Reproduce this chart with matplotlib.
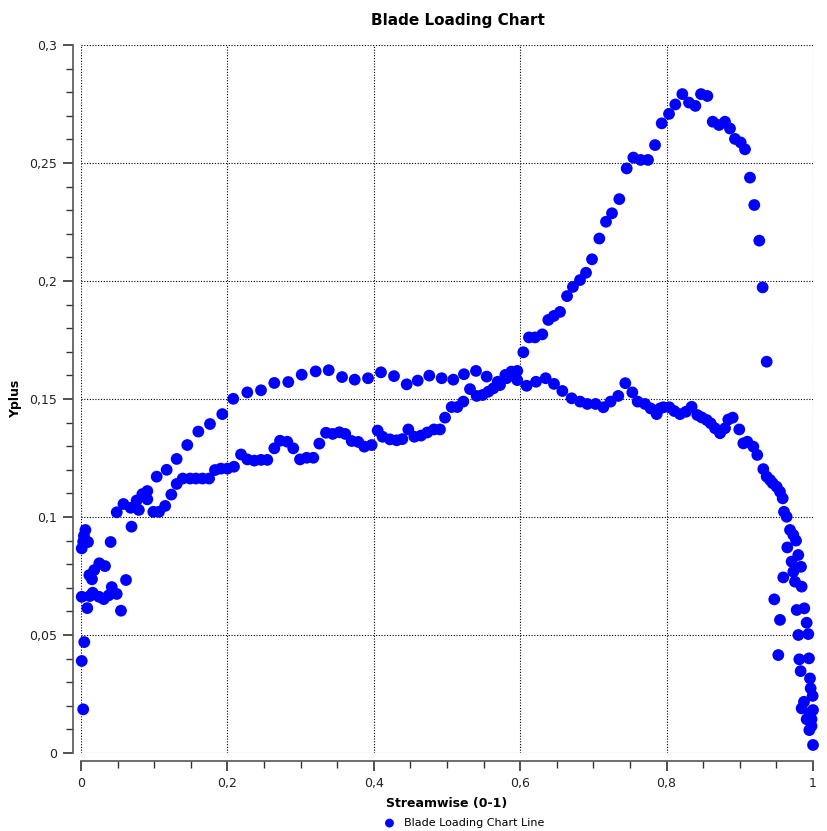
import numpy as np
import matplotlib
matplotlib.use("Agg")
import matplotlib.pyplot as plt
from matplotlib.ticker import MultipleLocator, FuncFormatter

# Yplus along the blade, streamwise coordinate 0..1
side_a_x = [0.003, 0.001, 0.0045, 0.001, 0.0086, 0.012, 0.016, 0.0246, 0.031, 0.0378, 0.042, 0.0488,
            0.0546, 0.0615, 0.0114, 0.015, 0.018, 0.025, 0.0328, 0.001, 0.003, 0.0096, 0.006, 0.004,
            0.0405, 0.069, 0.0488, 0.058, 0.0679, 0.079, 0.076, 0.0838, 0.0906, 0.0906, 0.0988,
            0.1066, 0.115, 0.1234, 0.1307, 0.139, 0.149, 0.157, 0.166, 0.175, 0.183, 0.191, 0.2,
            0.209, 0.2186, 0.2272, 0.2368, 0.2459, 0.2545, 0.2641, 0.2719, 0.2818, 0.29, 0.2992,
            0.3083, 0.3174, 0.3256, 0.3347, 0.3438, 0.3529, 0.361, 0.3698, 0.3788, 0.387, 0.397,
            0.4053, 0.412, 0.422, 0.4313, 0.439, 0.4472, 0.4554, 0.4645, 0.473, 0.4822, 0.4904,
            0.4973, 0.5064, 0.514, 0.5223, 0.5314, 0.5405, 0.5487, 0.5565, 0.5633, 0.5692, 0.5724,
            0.5797, 0.5815, 0.5879, 0.596, 0.596, 0.6043, 0.612, 0.6202, 0.6302, 0.6384, 0.646,
            0.6544, 0.664, 0.672, 0.6817, 0.6899, 0.6981, 0.7081, 0.7172, 0.7254, 0.7354, 0.7455,
            0.7546, 0.7646, 0.7746, 0.7842, 0.7933, 0.8033, 0.8119, 0.8215, 0.8306, 0.8393, 0.847,
            0.8557, 0.863, 0.8716, 0.8798, 0.8866, 0.8934, 0.9012, 0.9071, 0.9139, 0.9198, 0.9266,
            0.9312, 0.9367]
side_a_y = [0.0185, 0.039, 0.047, 0.0662, 0.0614, 0.0665, 0.0679, 0.0662, 0.0652, 0.0668, 0.0703, 0.0674,
            0.0603, 0.0733, 0.0754, 0.0736, 0.0775, 0.0804, 0.0792, 0.0867, 0.0895, 0.0894, 0.0945, 0.092,
            0.0894, 0.0959, 0.102, 0.1055, 0.1039, 0.103, 0.107, 0.1097, 0.111, 0.1075, 0.1022,
            0.1022, 0.1047, 0.1095, 0.114, 0.1163, 0.1163, 0.1163, 0.1163, 0.1163, 0.1199, 0.1205, 0.1205,
            0.1213, 0.1265, 0.1244, 0.1239, 0.1242, 0.1242, 0.1291, 0.1323, 0.1319, 0.1291, 0.1244,
            0.1251, 0.1251, 0.1311, 0.1357, 0.1352, 0.1359, 0.1352, 0.1322, 0.1318, 0.1298, 0.1305,
            0.1366, 0.134, 0.1329, 0.1325, 0.133, 0.1371, 0.134, 0.1345, 0.1358, 0.1371, 0.1371,
            0.1421, 0.1466, 0.1466, 0.1489, 0.1542, 0.1513, 0.1517, 0.1531, 0.1545, 0.1573, 0.1559,
            0.1602, 0.1588, 0.1616, 0.1619, 0.158, 0.1698, 0.1761, 0.1761, 0.1774, 0.1835, 0.1852,
            0.1869, 0.1936, 0.1975, 0.2004, 0.2035, 0.2092, 0.218, 0.2251, 0.2287, 0.2347, 0.2477,
            0.2523, 0.2513, 0.2513, 0.2576, 0.2668, 0.2708, 0.2748, 0.2792, 0.2756, 0.2742, 0.2792,
            0.2784, 0.2675, 0.2661, 0.2675, 0.2646, 0.2602, 0.2587, 0.2558, 0.2438, 0.2322, 0.2171,
            0.1973, 0.1658]

side_b_x = [0.1034, 0.117, 0.1307, 0.1452, 0.1603, 0.1762, 0.193, 0.208, 0.2272, 0.2459, 0.2641, 0.2832,
            0.3015, 0.3206, 0.3384, 0.3566, 0.3739, 0.3921, 0.4098, 0.4276, 0.4449, 0.46, 0.4758,
            0.4927, 0.5086, 0.5232, 0.5396, 0.5542, 0.6088, 0.6216, 0.6348, 0.6462, 0.6576, 0.6703,
            0.6817, 0.6917, 0.703, 0.7136, 0.7235, 0.734, 0.7436, 0.7532, 0.7605, 0.7705, 0.7782,
            0.7864, 0.791, 0.7955, 0.8037, 0.8105, 0.8183, 0.8265, 0.8342, 0.842, 0.8479, 0.8548,
            0.8602, 0.8661, 0.873, 0.8798, 0.8843, 0.8903, 0.8993, 0.9048, 0.9103, 0.9185, 0.9239,
            0.9321, 0.9367, 0.9413, 0.9449, 0.9504, 0.9549, 0.9586, 0.9604, 0.964, 0.9686, 0.9731,
            0.9768, 0.9649, 0.9799, 0.9708, 0.9836, 0.9731, 0.9754, 0.9594, 0.9845, 0.9471, 0.9777,
            0.9881, 0.9549, 0.9913, 0.98, 0.9936, 0.9526, 0.9813, 0.9945, 0.9831, 0.9959, 0.9968,
            0.9995, 0.9877, 0.9845, 1.0, 0.9959, 0.998, 0.9913, 0.998, 0.995, 1.0]
side_b_y = [0.1171, 0.12, 0.1246, 0.1305, 0.1362, 0.1394, 0.1436, 0.1501, 0.1528, 0.1537, 0.1568, 0.1572,
            0.1603, 0.1617, 0.1622, 0.1593, 0.1582, 0.1588, 0.1613, 0.1597, 0.1562, 0.1578, 0.1599,
            0.1588, 0.1582, 0.1605, 0.1619, 0.1595, 0.1556, 0.1573, 0.1588, 0.1564, 0.1534, 0.1503,
            0.1489, 0.1479, 0.1479, 0.1465, 0.1489, 0.1513, 0.1567, 0.1528, 0.1489, 0.1479, 0.146,
            0.1436, 0.146, 0.1465, 0.1465, 0.1449, 0.1436, 0.1446, 0.1467, 0.1432, 0.1422, 0.1411,
            0.1397, 0.1376, 0.1355, 0.1376, 0.1413, 0.1421, 0.1371, 0.1312, 0.1319, 0.1298, 0.1263,
            0.1203, 0.1171, 0.1157, 0.1143, 0.1128, 0.1107, 0.1079, 0.1022, 0.1001, 0.0945, 0.0924,
            0.09, 0.0871, 0.0839, 0.0811, 0.0789, 0.0768, 0.0726, 0.0744, 0.0705, 0.0651, 0.0606,
            0.0613, 0.0564, 0.0552, 0.05, 0.0504, 0.0415, 0.0397, 0.0401, 0.0347, 0.0316, 0.0274,
            0.0242, 0.0217, 0.0189, 0.0182, 0.0168, 0.0143, 0.0143, 0.0114, 0.0097, 0.0034]

x_values = np.array(side_a_x + side_b_x)
y_values = np.array(side_a_y + side_b_y)

plt.rcParams['font.family'] = ['DejaVu Sans']

W, H = 827, 831
fig = plt.figure(figsize=(W / 100, H / 100), dpi=100)
ax = fig.add_axes([81 / W, 1 - 753 / H, (813 - 81) / W, (753 - 45) / H])

ax.scatter(x_values, y_values, s=72, color='#0000ff', edgecolors='none',
           clip_on=False, zorder=3, label='Blade Loading Chart Line')

ax.set_xlim(0, 1)
ax.set_ylim(0, 0.3)

ax.xaxis.set_major_locator(MultipleLocator(0.2))
ax.xaxis.set_minor_locator(MultipleLocator(0.05))
ax.yaxis.set_major_locator(MultipleLocator(0.05))
ax.yaxis.set_minor_locator(MultipleLocator(0.01))

def comma_fmt(v, pos):
    s = ('%.2f' % v).rstrip('0').rstrip('.')
    return s.replace('.', ',')

ax.xaxis.set_major_formatter(FuncFormatter(comma_fmt))
ax.yaxis.set_major_formatter(FuncFormatter(comma_fmt))

for side in ('top', 'right'):
    ax.spines[side].set_visible(False)
for side in ('left', 'bottom'):
    ax.spines[side].set_position(('outward', 6))
    ax.spines[side].set_color('#555555')
    ax.spines[side].set_linewidth(1.2)

ax.tick_params(which='major', direction='out', length=7, width=1.2, color='#333333',
               labelsize=9, labelcolor='#222222', pad=4)
ax.tick_params(which='minor', direction='out', length=5, width=1.0, color='#333333')

ax.grid(True, which='major', color='black', linestyle=(0, (1, 1.5)), linewidth=0.8)
ax.set_axisbelow(True)

fig.text(458 / W, 1 - 21 / H, 'Blade Loading Chart', fontsize=11, fontweight='bold',
         ha='center', va='center')
ax.set_xlabel('Streamwise (0-1)', fontsize=9, fontweight='bold', labelpad=5)
ax.set_ylabel('Yplus', fontsize=9, fontweight='bold', labelpad=5)

fig.legend(loc='center', bbox_to_anchor=(463 / W, 1 - 823 / H), frameon=False,
           fontsize=8, markerscale=0.75, handletextpad=0.6, handlelength=1.5,
           borderpad=0.0, borderaxespad=0.0)

fig.savefig('out.png', dpi=100, facecolor='white')
